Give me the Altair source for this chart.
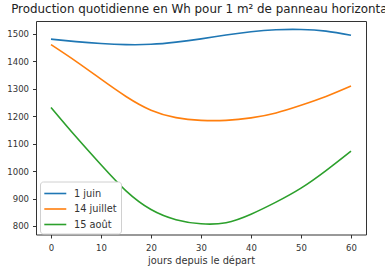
import altair as alt
import pandas as pd

days = [0, 5, 10, 15, 20, 25, 30, 35, 40, 45, 50, 55, 60]
juin = [1481, 1472, 1465, 1461, 1462, 1470, 1482, 1496, 1508, 1515, 1516, 1510, 1495]
juillet = [1461, 1400, 1335, 1272, 1222, 1195, 1185, 1185, 1194, 1212, 1240, 1272, 1310]
aout = [1232, 1125, 1023, 928, 860, 823, 808, 812, 843, 887, 938, 1002, 1073]
series_names = ["1 juin", "14 juillet", "15 août"]
colors = ["#1f77b4", "#ff7f0e", "#2ca02c"]
y_ticks = [800, 900, 1000, 1100, 1200, 1300, 1400, 1500]
x_ticks = [0, 10, 20, 30, 40, 50, 60]

rows = []
for name, vals in zip(series_names, [juin, juillet, aout]):
    for d, v in zip(days, vals):
        rows.append({"jour": d, "prod": v, "serie": name})
df = pd.DataFrame(rows)

FONT = "DejaVu Sans"

chart = alt.Chart(df).mark_line(strokeWidth=1.6, interpolate="natural").encode(
    x=alt.X("jour:Q",
            scale=alt.Scale(domain=[-3, 63], nice=False, zero=False),
            axis=alt.Axis(values=x_ticks, title="jours depuis le départ", grid=False,
                          domain=False, tickColor="#333", tickSize=3.5, labelPadding=5,
                          labelFontSize=8.5, labelColor="#333", labelFont=FONT,
                          titleFont=FONT, titleFontSize=9.8, titleFontWeight="normal",
                          titleColor="#333", titlePadding=4)),
    y=alt.Y("prod:Q",
            scale=alt.Scale(domain=[769, 1547], nice=False, zero=False),
            axis=alt.Axis(values=y_ticks, format="d", title=None, grid=False, domain=False,
                          tickColor="#333", tickSize=3.5, labelPadding=4,
                          labelFontSize=8.5, labelColor="#333", labelFont=FONT)),
    color=alt.Color("serie:N",
                    scale=alt.Scale(domain=series_names, range=colors),
                    sort=series_names,
                    legend=alt.Legend(title=None, orient="none", legendX=4, legendY=160.5,
                                      symbolType="M-1.1,0H2.04", symbolSize=196,
                                      symbolStrokeWidth=1.6, labelFont=FONT,
                                      labelFontSize=9.8, labelColor="#333",
                                      labelOffset=14, rowPadding=2.5,
                                      fillColor="white", strokeColor="#d0d0d0",
                                      cornerRadius=3, padding=4)),
).properties(
    width=330, height=213.5,
    title=alt.TitleParams("Production quotidienne en Wh pour 1 m² de panneau horizontal",
                          font=FONT, fontSize=11.9, fontWeight="normal", color="#222",
                          anchor="middle", frame="group", offset=5),
    autosize=alt.AutoSizeParams(type="none"),
    padding={"left": 36, "top": 21, "right": 19, "bottom": 35.5},
).configure_view(stroke="#333", strokeWidth=1)

chart.save("out.html", embed_options={"renderer": "svg", "actions": False})
